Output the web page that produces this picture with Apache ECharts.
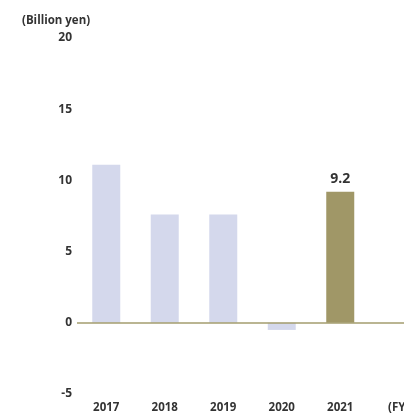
<!DOCTYPE html>
<html>
<head>
<meta charset="utf-8">
<script src="https://cdn.jsdelivr.net/npm/echarts@6/dist/echarts.min.js"></script>
<style>
  html, body { margin: 0; padding: 0; background: #fff; overflow: hidden; width: 404px; height: 416px; }
  /* canvas is wider than the page so the trailing "(FY)" slot is cut off at the edge */
  #chart { width: 428px; height: 416px; }
</style>
</head>
<body>
<div id="chart"></div>
<script>
// Fiscal years along the axis; the last slot only carries the "(FY)" unit label
const categories = ['2017', '2018', '2019', '2020', '2021', '(FY)'];
// Values in billion yen
const values = [11.1, 7.6, 7.6, -0.5, 9.2, null];
const highlightIndex = 4;
const yTicks = { min: -5, max: 20, step: 5 };

const baseColor = '#d4d8ec';
const highlightColor = '#a09767';
const textColor = '#333333';
const fontFamily = '"Open Sans", "Noto Sans", sans-serif';

const chart = echarts.init(document.getElementById('chart'));
chart.setOption({
  animation: false,
  title: {
    text: '(Billion yen)',
    left: 17,
    top: 10,
    textStyle: { fontSize: 11.5, fontWeight: 'bold', color: textColor, fontFamily: fontFamily }
  },
  grid: { left: 77, right: 0, top: 38, bottom: 22 },
  xAxis: {
    type: 'category',
    data: categories,
    axisLine: { show: false },
    axisTick: { show: false },
    axisLabel: { color: textColor, fontWeight: 'bold', fontSize: 11.5, fontFamily: fontFamily, margin: 8 }
  },
  yAxis: {
    type: 'value',
    min: yTicks.min,
    max: yTicks.max,
    interval: yTicks.step,
    splitLine: { show: false },
    axisLine: { show: false },
    axisTick: { show: false },
    axisLabel: { color: textColor, fontWeight: 'bold', fontSize: 12, fontFamily: fontFamily, margin: 5 }
  },
  series: [{
    type: 'bar',
    barWidth: 28,
    data: values.map((v, i) => ({
      value: v,
      itemStyle: { color: i === highlightIndex ? highlightColor : baseColor },
      label: i === highlightIndex ? {
        show: true,
        position: 'top',
        distance: 6,
        color: textColor,
        fontSize: 14,
        fontWeight: 'bold',
        fontFamily: fontFamily,
        formatter: (p) => p.value.toFixed(1)
      } : { show: false }
    })),
    markLine: {
      silent: true,
      symbol: 'none',
      label: { show: false },
      lineStyle: { color: '#a39d6e', width: 1.5, type: 'solid' },
      data: [{ yAxis: 0 }]
    }
  }]
});
</script>
</body>
</html>
